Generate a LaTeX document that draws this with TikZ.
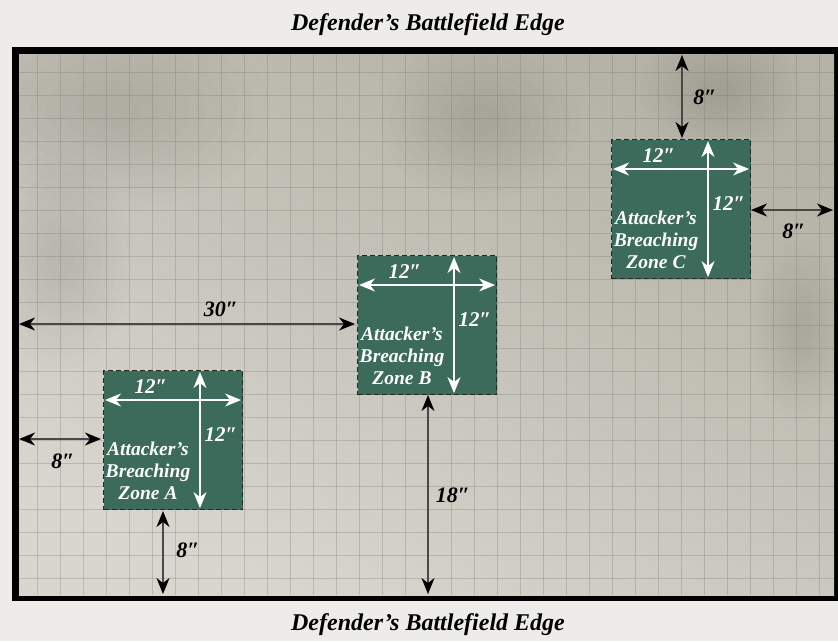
\documentclass[tikz,border=0pt]{standalone}
\usepackage{fontspec}
\setmainfont{Liberation Serif}
\usetikzlibrary{arrows.meta,calc}
\definecolor{paper}{RGB}{237,236,233}
\definecolor{boardlight}{RGB}{216,214,206}
\definecolor{boarddark}{RGB}{180,177,166}
\definecolor{gridc}{RGB}{120,118,110}
\definecolor{zonegreen}{RGB}{60,107,91}
\definecolor{arrowgrey}{RGB}{72,72,70}
\newcommand\blotch[4]{% x, y, rx, ry
  \foreach \s in {1.0,0.9,0.8,0.7,0.6,0.5,0.4,0.3,0.2}{
    \fill[black,opacity=0.009] (#1,#2) ellipse [x radius=\s*#3, y radius=\s*#4];}
}
\newcommand\breachzone[4]{% name, x, y, letter
  \node[zonebox] (#1) at (#2,#3) {};
  \coordinate (#1hl) at ($(#1.north west)+(2,30)$);
  \coordinate (#1hr) at ($(#1.north east)+(-2,30)$);
  \coordinate (#1vt) at ($(#1.north west)+(97,2)$);
  \coordinate (#1vb) at ($(#1.south west)+(97,-2)$);
  \draw[whitearrow] (#1hl) -- (#1hr);
  \draw[whitearrow] (#1vt) -- (#1vb);
  \node[whitelabel] (#1w) at ($(#1.north west)+(48,17)$) {12″};
  \node[whitelabel] (#1h) at ($(#1.north west)+(118,65)$) {12″};
  \node[zonetext] (#1t) at ($(#1.north west)+(45,101)$) {Attacker’s\\Breaching\\Zone #4};
}
\begin{document}
\begin{tikzpicture}[x=1pt,y=-1pt,
  zonebox/.style={draw=black!85, dash pattern=on 5pt off 3pt, line width=1.1pt,
    fill=zonegreen, minimum width=139pt, minimum height=139pt, inner sep=0pt,
    anchor=north west},
  blackarrow/.style={draw=arrowgrey, line width=1.9pt,
    {Stealth[length=16pt,width=13pt,inset=5pt,fill=black,color=black]}-{Stealth[length=16pt,width=13pt,inset=5pt,fill=black,color=black]}},
  whitearrow/.style={draw=white, line width=1.6pt,
    {Stealth[length=16pt,width=13pt,inset=5pt,fill=white,color=white]}-{Stealth[length=16pt,width=13pt,inset=5pt,fill=white,color=white]}},
  whitelabel/.style={text=white, font=\fontsize{21}{24}\selectfont\bfseries\itshape, inner sep=0pt},
  blacklabel/.style={text=black, font=\fontsize{22}{24}\selectfont\bfseries\itshape, inner sep=0pt},
  zonetext/.style={text=white, align=center, font=\fontsize{19.5}{22}\selectfont\bfseries\itshape, inner sep=0pt},
  title/.style={text=black, font=\fontsize{24}{26}\selectfont\bfseries\itshape, inner sep=0pt}
]
\useasboundingbox (0,0) rectangle (838,641);
\fill[paper] (0,0) rectangle (838,641);
% board
\fill[black] (12,47) rectangle (838,601);
\shade[shading=axis, top color=boarddark, bottom color=boardlight, shading angle=-25] (19,54) rectangle (834,595);
\begin{scope}
\clip (19,54) rectangle (834,595);
\blotch{110}{110}{160}{100}
\blotch{480}{120}{100}{80}
\blotch{720}{90}{80}{60}
\blotch{60}{260}{70}{110}
\blotch{800}{330}{50}{90}
\foreach \k in {0,...,34}{\draw[gridc, line width=0.6pt, opacity=0.3] (37+23*\k,54) -- (37+23*\k,595);}
\foreach \k in {0,...,22}{\draw[gridc, line width=0.6pt, opacity=0.3] (19,72+23*\k) -- (834,72+23*\k);}
\end{scope}
% titles
\node[title] (ttop) at (428,25) {Defender’s Battlefield Edge};
\node[title] (tbot) at (428,625) {Defender’s Battlefield Edge};
% zones
\breachzone{zA}{103}{370}{A}
\breachzone{zB}{357}{255}{B}
\breachzone{zC}{611}{139}{C}
% black distance arrows
\coordinate (cTop) at (682,55);
\coordinate (cTopEnd) at (682,138);
\draw[blackarrow] (cTop) -- (cTopEnd);
\node[blacklabel] (lC1) at (705,97) {8″};
\coordinate (cR1) at (751,210);
\coordinate (cR2) at (833,210);
\draw[blackarrow] (cR1) -- (cR2);
\node[blacklabel] (lC2) at (794,231) {8″};
\coordinate (b30a) at (19,324);
\coordinate (b30b) at (355,324);
\draw[blackarrow] (b30a) -- (b30b);
\node[blacklabel] (l30) at (221,309) {30″};
\coordinate (aLa) at (19,439);
\coordinate (aLb) at (101,439);
\draw[blackarrow] (aLa) -- (aLb);
\node[blacklabel] (lA1) at (63,461) {8″};
\coordinate (b18a) at (428,395);
\coordinate (b18b) at (428,594);
\draw[blackarrow] (b18a) -- (b18b);
\node[blacklabel] (l18) at (453,495) {18″};
\coordinate (aBa) at (163,511);
\coordinate (aBb) at (163,594);
\draw[blackarrow] (aBa) -- (aBb);
\node[blacklabel] (lA2) at (188,550) {8″};
\end{tikzpicture}
\end{document}
